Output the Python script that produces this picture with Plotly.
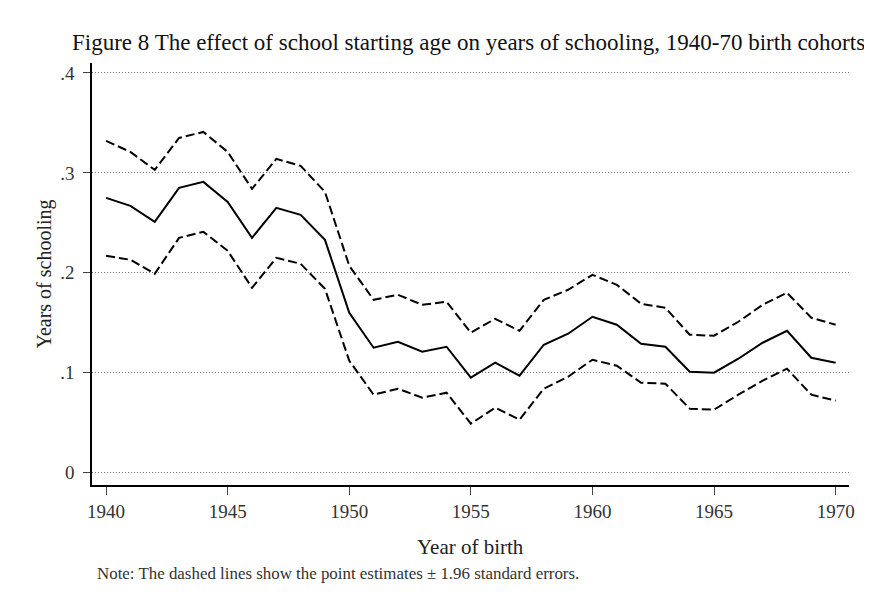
import plotly.graph_objects as go

# birth cohorts
years = list(range(1940, 1971))

# point estimate of the effect (years of schooling)
estimate = [0.275, 0.267, 0.251, 0.285, 0.291, 0.271, 0.235, 0.265, 0.258, 0.233,
            0.160, 0.125, 0.131, 0.121, 0.126, 0.095, 0.110, 0.097, 0.128, 0.139,
            0.156, 0.148, 0.129, 0.126, 0.101, 0.100, 0.114, 0.130, 0.142, 0.115,
            0.110]

# estimate + 1.96 se
upper = [0.332, 0.321, 0.303, 0.335, 0.341, 0.321, 0.284, 0.314, 0.307, 0.281,
         0.207, 0.173, 0.178, 0.168, 0.171, 0.140, 0.154, 0.142, 0.173, 0.183,
         0.198, 0.188, 0.169, 0.165, 0.138, 0.137, 0.151, 0.168, 0.180, 0.155,
         0.148]

# estimate - 1.96 se
lower = [0.217, 0.213, 0.199, 0.235, 0.241, 0.222, 0.185, 0.215, 0.209, 0.184,
         0.112, 0.078, 0.084, 0.075, 0.080, 0.049, 0.065, 0.053, 0.084, 0.096,
         0.113, 0.107, 0.090, 0.089, 0.064, 0.063, 0.078, 0.092, 0.104, 0.078,
         0.072]

xticks = [1940, 1945, 1950, 1955, 1960, 1965, 1970]
yticks = [0, 0.1, 0.2, 0.3, 0.4]
yticklabels = ["0", ".1", ".2", ".3", ".4"]

serif = "Liberation Serif, Times New Roman, serif"
dash = "9px,4px"

fig = go.Figure()
fig.add_trace(go.Scatter(x=years, y=upper, mode="lines",
                         line=dict(color="black", width=2, dash=dash)))
fig.add_trace(go.Scatter(x=years, y=estimate, mode="lines",
                         line=dict(color="black", width=2)))
fig.add_trace(go.Scatter(x=years, y=lower, mode="lines",
                         line=dict(color="black", width=2, dash=dash)))

# page body adds an 8px offset, so the figure is 8px smaller than the window
fig.update_layout(
    width=864, height=595,
    margin=dict(l=84, r=23, t=55, b=118),
    paper_bgcolor="white", plot_bgcolor="white",
    showlegend=False,
    font=dict(family=serif, color="#222222", size=18),
)

fig.update_xaxes(
    range=[1939.42, 1970.55],
    tickmode="array", tickvals=xticks,
    ticks="outside", ticklen=8, tickcolor="#444444",
    showline=True, linecolor="black", linewidth=1.5,
    showgrid=False, zeroline=False,
    tickfont=dict(size=19, color="#333333"),
)
fig.update_yaxes(
    range=[-0.0124, 0.41],
    tickmode="array", tickvals=yticks, ticktext=yticklabels,
    ticks="outside", ticklen=7, tickcolor="#444444",
    ticklabelstandoff=5,
    showline=True, linecolor="black", linewidth=1.5,
    showgrid=True, gridcolor="#777777", gridwidth=1, griddash="1px,2px",
    zeroline=False,
    tickfont=dict(size=19, color="#333333"),
    title=dict(text="Years of schooling", font=dict(size=20, color="#222222"), standoff=3),
)

fig.add_annotation(
    text="Figure 8 The effect of school starting age on years of schooling, 1940-70 birth cohorts",
    xref="paper", yref="paper", x=1.024, y=1.0, yshift=21,
    xanchor="right", yanchor="middle", showarrow=False,
    font=dict(family=serif, size=23, color="#111111"),
)
fig.add_annotation(
    text="Year of birth",
    xref="paper", yref="paper", x=0.5, y=0, yshift=-62,
    xanchor="center", yanchor="middle", showarrow=False,
    font=dict(family=serif, size=21, color="#222222"),
)
fig.add_annotation(
    text="Note: The dashed lines show the point estimates ± 1.96 standard errors.",
    xref="paper", yref="paper", x=0.004, y=0, yshift=-88,
    xanchor="left", yanchor="middle", showarrow=False,
    font=dict(family=serif, size=16.9, color="#333333"),
)

fig.write_html("out.html")
